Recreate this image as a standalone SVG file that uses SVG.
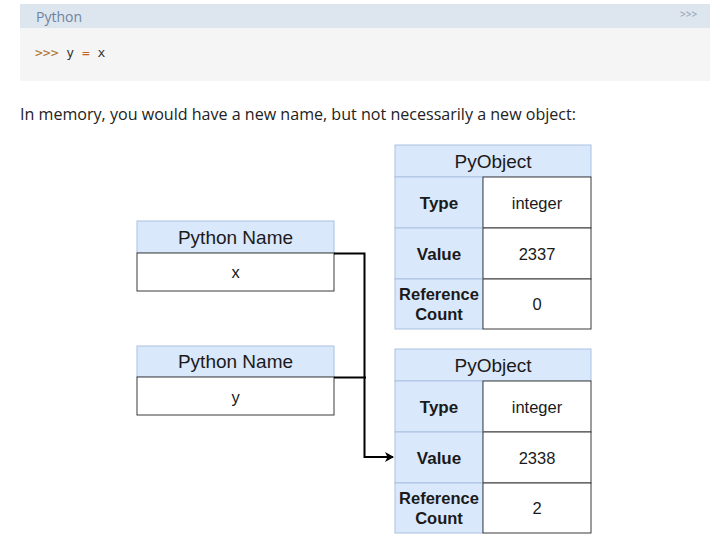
<svg xmlns="http://www.w3.org/2000/svg" width="716" height="548" viewBox="0 0 716 548">
<style>
.hd{fill:#dae8fc;stroke:#a9c0e0;stroke-width:1}
.cell{fill:#ffffff;stroke:#3a3a3a;stroke-width:1}
.lab{fill:#dae8fc;stroke:#a9c0e0;stroke-width:1}
.t{font-family:"Liberation Sans",Arial,sans-serif;fill:#1a1a1a;text-anchor:middle}
.big{font-size:19px}
.nm{font-size:16.5px}
.b{font-size:17px;font-weight:bold}
.rb{font-size:16.5px;font-weight:bold}
.con{fill:none;stroke:#000;stroke-width:2}
</style>
<defs>
<marker id="arr" markerWidth="10" markerHeight="10" refX="8" refY="5" orient="auto" markerUnits="userSpaceOnUse">
<path d="M0,0 L9,5 L0,10 L2.5,5 Z" fill="#000"/>
</marker>
</defs>
<rect width="716" height="548" fill="#ffffff"/>
<g id="codeblock">
<rect x="20" y="4" width="690" height="24" fill="#dde5ee"/>
<rect x="20" y="28" width="690" height="53" fill="#f5f5f5"/>
<text x="36" y="22" font-family="'Open Sans','Noto Sans',sans-serif" font-size="14" fill="#6d84a0">Python</text>
<text x="680" y="18" font-family="'Open Sans','Noto Sans',sans-serif" font-size="10" fill="#8a9ab0">&gt;&gt;&gt;</text>
<text x="35" y="57" font-family="'DejaVu Sans Mono','Liberation Mono',monospace" font-size="13"><tspan fill="#b0732f">&gt;&gt;&gt;</tspan><tspan fill="#333"> y </tspan><tspan fill="#c8642a">=</tspan><tspan fill="#333"> x</tspan></text>
</g>
<text x="20" y="120" font-family="'Open Sans','Noto Sans',sans-serif" font-size="16" fill="#222" textLength="556" lengthAdjust="spacingAndGlyphs">In memory, you would have a new name, but not necessarily a new object:</text>

<g id="name-x">
<rect class="hd" x="137" y="221" width="197" height="32"/>
<rect class="cell" x="137" y="253" width="197" height="38"/>
<text class="t big" x="235.5" y="244">Python Name</text>
<text class="t nm" x="235.5" y="278">x</text>
</g>
<g id="name-y">
<rect class="hd" x="137" y="346" width="197" height="31"/>
<rect class="cell" x="137" y="377" width="197" height="38"/>
<text class="t big" x="235.5" y="368">Python Name</text>
<text class="t nm" x="235.5" y="403">y</text>
</g>

<g id="pyobject-1">
<rect class="hd" x="395" y="145" width="196" height="32"/>
<text class="t big" x="493" y="168">PyObject</text>
<rect class="lab" x="395" y="177" width="88" height="51"/>
<rect class="cell" x="483" y="177" width="108" height="51"/>
<rect class="lab" x="395" y="228" width="88" height="51"/>
<rect class="cell" x="483" y="228" width="108" height="51"/>
<rect class="lab" x="395" y="279" width="88" height="50"/>
<rect class="cell" x="483" y="279" width="108" height="50"/>
<text class="t b" x="439" y="209">Type</text>
<text class="t nm" x="537" y="209">integer</text>
<text class="t b" x="439" y="260">Value</text>
<text class="t nm" x="537" y="260">2337</text>
<text class="t rb" x="439" y="300">Reference</text>
<text class="t rb" x="439" y="320">Count</text>
<text class="t nm" x="537" y="310">0</text>
</g>

<g id="pyobject-2">
<rect class="hd" x="395" y="349" width="196" height="32"/>
<text class="t big" x="493" y="372">PyObject</text>
<rect class="lab" x="395" y="381" width="88" height="51"/>
<rect class="cell" x="483" y="381" width="108" height="51"/>
<rect class="lab" x="395" y="432" width="88" height="51"/>
<rect class="cell" x="483" y="432" width="108" height="51"/>
<rect class="lab" x="395" y="483" width="88" height="50"/>
<rect class="cell" x="483" y="483" width="108" height="50"/>
<text class="t b" x="439" y="413">Type</text>
<text class="t nm" x="537" y="413">integer</text>
<text class="t b" x="439" y="464">Value</text>
<text class="t nm" x="537" y="464">2338</text>
<text class="t rb" x="439" y="504">Reference</text>
<text class="t rb" x="439" y="524">Count</text>
<text class="t nm" x="537" y="514">2</text>
</g>

<g id="connectors">
<path class="con" d="M334,253.5 H364.5 V457 H393" marker-end="url(#arr)"/>
<path class="con" d="M334,377.5 H366"/>
</g>
</svg>
